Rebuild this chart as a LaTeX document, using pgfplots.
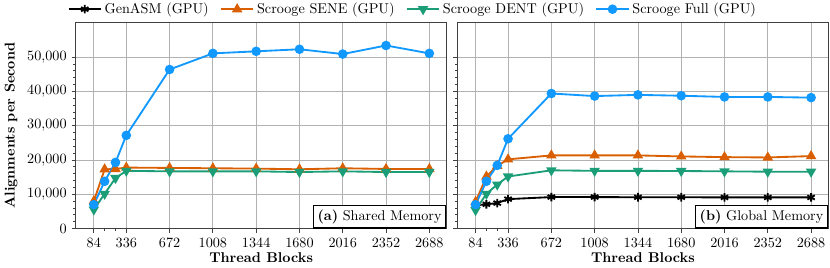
\documentclass[border=0pt]{standalone}
\usepackage{pgfplots}
\pgfplotsset{compat=1.18}
\definecolor{cblue}{RGB}{17,153,255}
\definecolor{corange}{RGB}{217,95,2}
\definecolor{cgreen}{RGB}{27,158,119}
\pgfplotsset{
  base/.style={
    scale only axis, width=261pt, height=145pt,
    xmin=-55, xmax=2820, ymin=0, ymax=60000,
    xtick={84,336,672,1008,1344,1680,2016,2352,2688},
    extra x ticks={168,252}, extra x tick labels={},
    extra x tick style={grid=none, major tick length=2pt},
    ytick={0,10000,20000,30000,40000,50000}, minor y tick num=4,
    grid=major, grid style={black!30, line width=0.6pt},
    tick align=outside, xtick pos=bottom, ytick pos=left,
    axis line style={black!75, line width=0.8pt},
    tick style={black!75, line width=0.6pt},
    major tick length=3pt, minor tick length=2pt,
    scaled y ticks=false,
    yticklabel style={/pgf/number format/1000 sep={\mathord{,}}},
    xticklabel style={/pgf/number format/1000 sep={}},
    xlabel={\textbf{Thread Blocks}},
    xlabel style={yshift=8pt},
    every axis plot/.append style={line width=1.3pt},
    legend image code/.code={\draw[mark repeat=2,mark phase=2] plot coordinates {(0cm,0cm) (0.4cm,0cm) (0.8cm,0cm)};},
  },
  gen/.style={black, mark=asterisk, mark size=3pt},
  sene/.style={corange, mark=triangle*, mark size=3pt},
  dent/.style={cgreen, mark=triangle*, mark size=3pt, mark options={rotate=180}},
  full/.style={cblue, mark=*, mark size=2.7pt},
}
\begin{document}
\begin{tikzpicture}
\begin{axis}[base, at={(0pt,0pt)}, anchor=south west,
  ylabel={\textbf{Alignments per Second}}]
\addplot[sene] coordinates {(84,8000) (168,17300) (252,17400) (336,17800) (672,17700) (1008,17600) (1344,17500) (1680,17300) (2016,17600) (2352,17400) (2688,17400)};
\addplot[dent] coordinates {(84,5550) (168,10150) (252,14750) (336,16850) (672,16700) (1008,16700) (1344,16700) (1680,16500) (2016,16700) (2352,16500) (2688,16500)};
\addplot[full] coordinates {(84,7000) (168,13800) (252,19300) (336,27200) (672,46400) (1008,51100) (1344,51700) (1680,52300) (2016,50900) (2352,53400) (2688,51100)};
\node[draw=black, line width=0.8pt, fill=white, anchor=south east, inner sep=3pt] at (rel axis cs:1,0) {\textbf{(a)} Shared Memory};
\end{axis}
\begin{axis}[base, at={(269pt,0pt)}, anchor=south west, yticklabels={},
  legend style={at={(-0.12,1.02)}, anchor=south, draw=none, fill=none, legend columns=4,
    /tikz/every even column/.append style={column sep=6pt}, inner sep=0pt}]
\addplot[gen] coordinates {(84,6800) (168,7100) (252,7450) (336,8600) (672,9200) (1008,9200) (1344,9150) (1680,9150) (2016,9100) (2352,9100) (2688,9100)};
\addlegendentry{GenASM (GPU)}
\addplot[sene] coordinates {(84,7800) (168,15200) (252,18300) (336,20200) (672,21350) (1008,21350) (1344,21350) (1680,21050) (2016,20850) (2352,20750) (2688,21150)};
\addlegendentry{Scrooge SENE (GPU)}
\addplot[dent] coordinates {(84,5400) (168,10150) (252,12850) (336,15200) (672,17000) (1008,16850) (1344,16850) (1680,16800) (2016,16700) (2352,16600) (2688,16600)};
\addlegendentry{Scrooge DENT (GPU)}
\addplot[full] coordinates {(84,7000) (168,13800) (252,18450) (336,26200) (672,39400) (1008,38650) (1344,39000) (1680,38750) (2016,38400) (2352,38400) (2688,38200)};
\addlegendentry{Scrooge Full (GPU)}
\node[draw=black, line width=0.8pt, fill=white, anchor=south east, inner sep=3pt] at (rel axis cs:1,0) {\textbf{(b)} Global Memory};
\end{axis}
\end{tikzpicture}
\end{document}
